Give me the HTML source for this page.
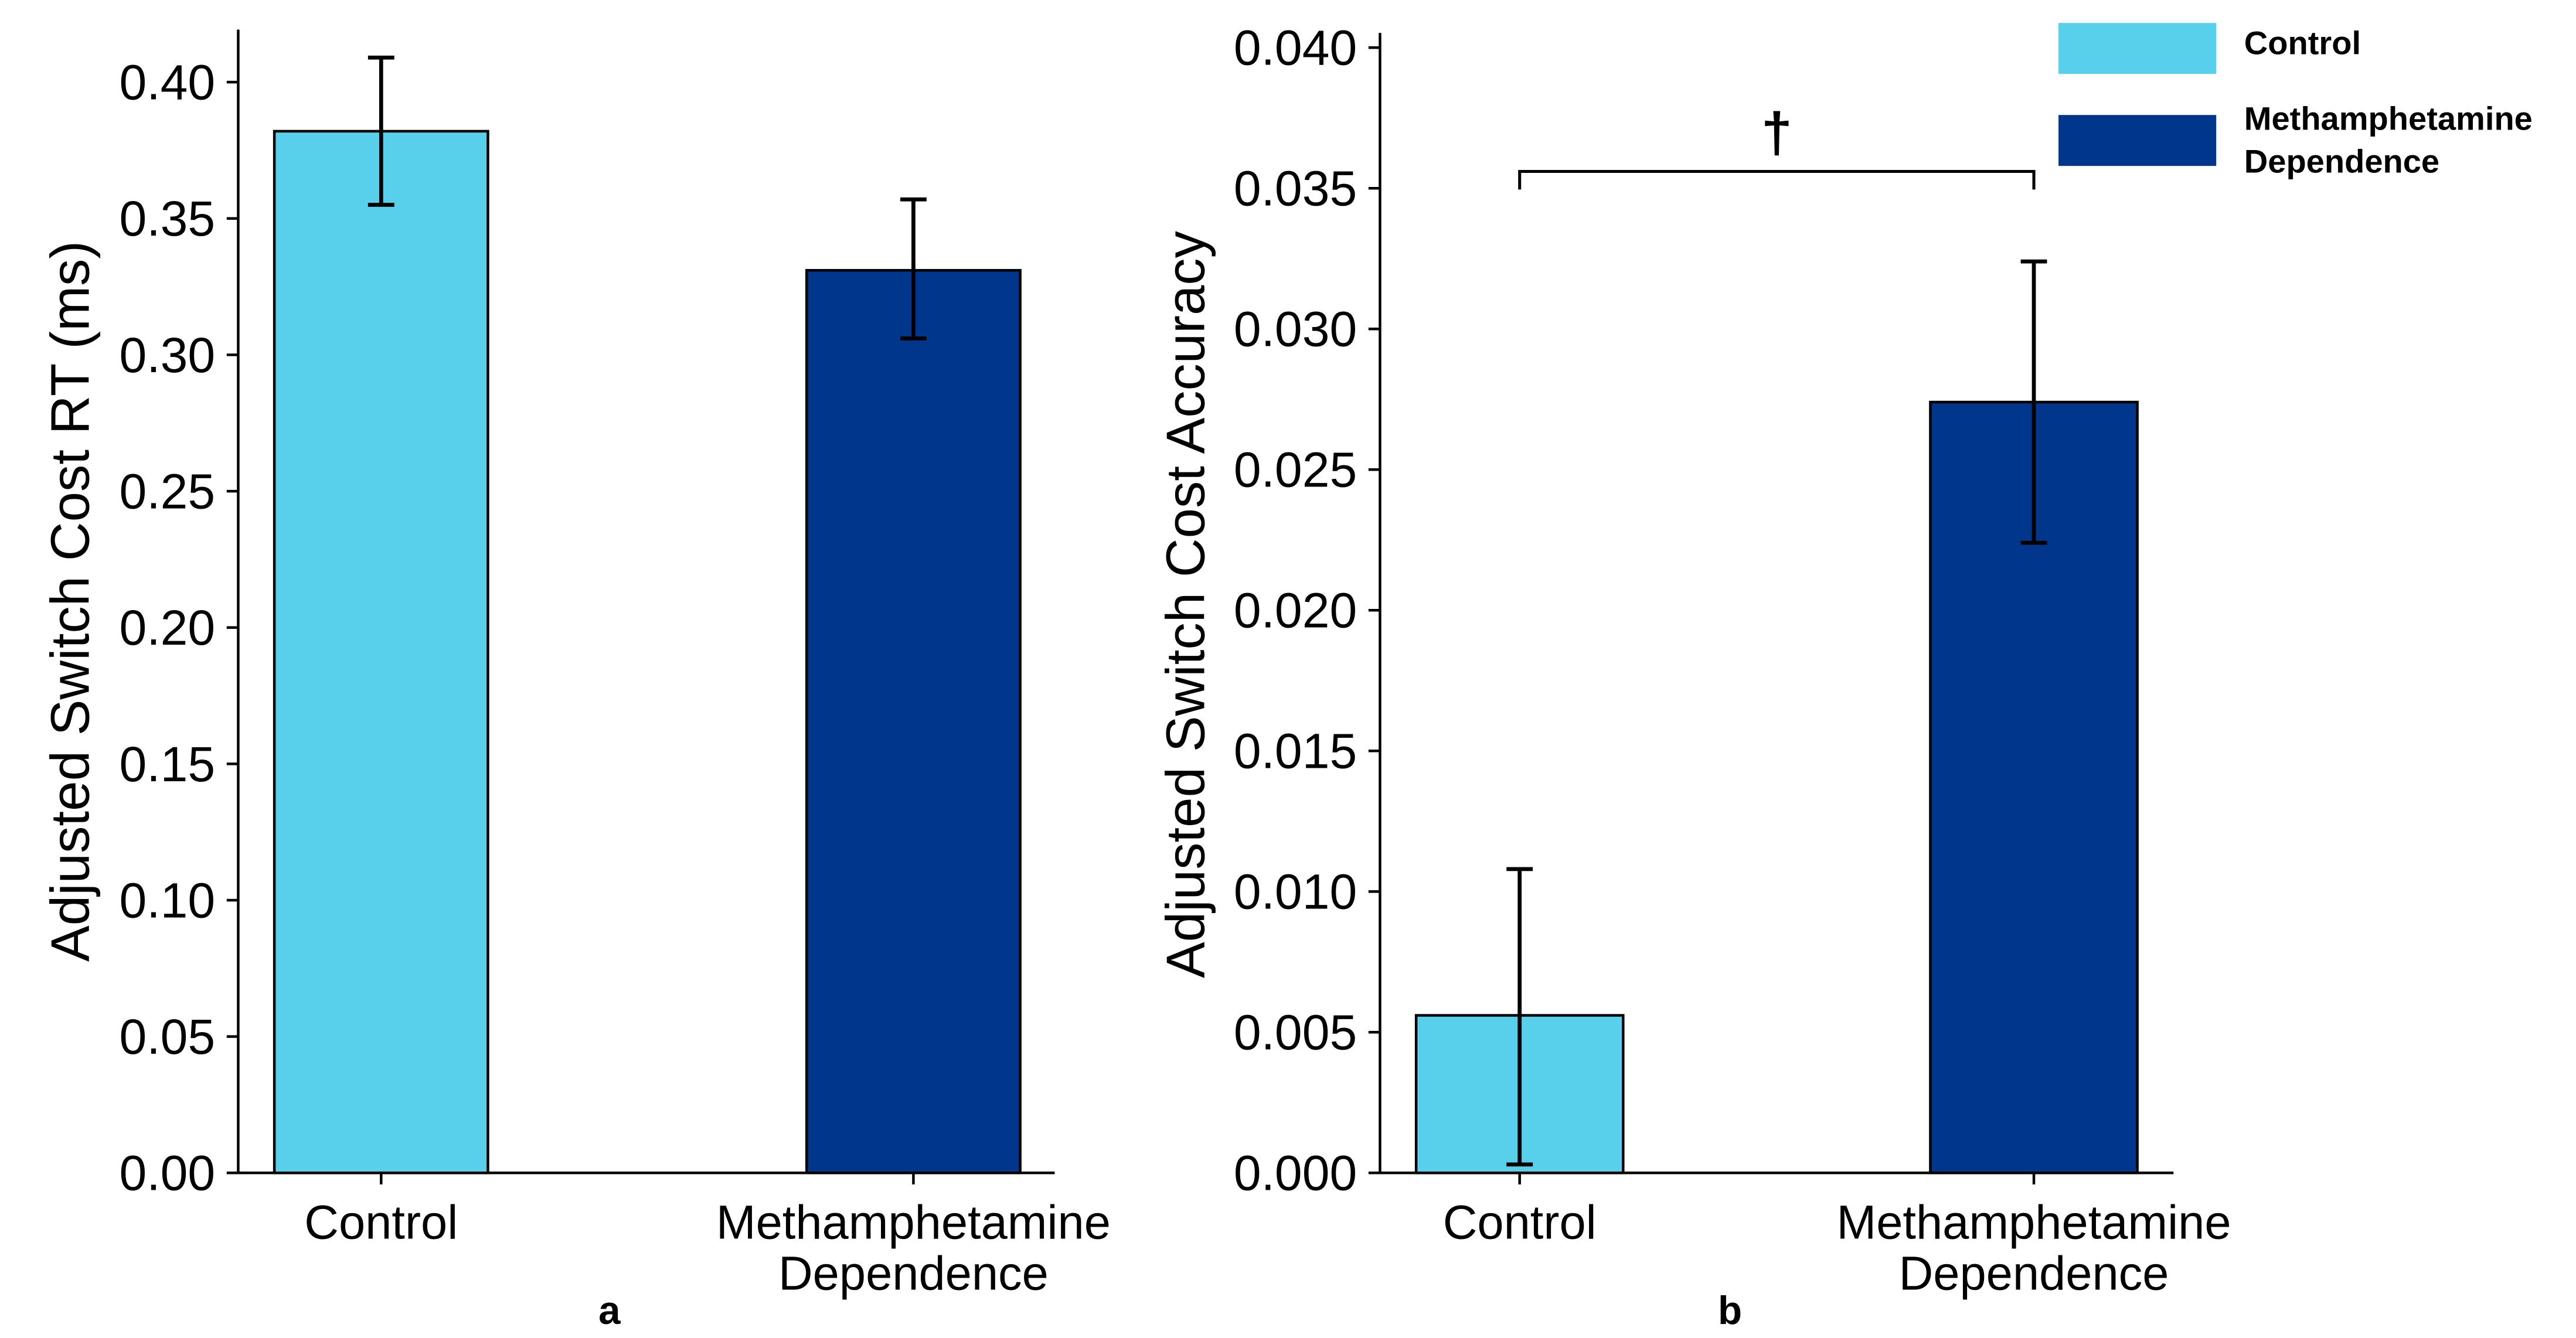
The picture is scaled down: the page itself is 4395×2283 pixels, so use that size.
<!DOCTYPE html>
<html><head><meta charset="utf-8"><style>
html,body{margin:0;padding:0;background:#fff;}
svg{display:block;font-family:"Liberation Sans",Arial,sans-serif;}
</style></head><body>
<svg id="fig" width="4395" height="2283" viewBox="0 0 1568 814.5" xmlns="http://www.w3.org/2000/svg"></svg>
<script>
const categories = ["Control", "Methamphetamine Dependence"];
const rtValues = [0.382, 0.331];
const rtErrLow = [0.355, 0.306];
const rtErrHigh = [0.409, 0.357];
const rtTicks = ["0.00","0.05","0.10","0.15","0.20","0.25","0.30","0.35","0.40"];
const accValues = [0.0056, 0.0274];
const accErrLow = [0.0003, 0.0224];
const accErrHigh = [0.0108, 0.0324];
const accTicks = ["0.000","0.005","0.010","0.015","0.020","0.025","0.030","0.035","0.040"];
const bracketValue = 0.0356;
const colors = ["#58cfeb", "#00378c"];

const svg = document.getElementById('fig');
const NS = "http://www.w3.org/2000/svg";
function mk(tag, attrs, parent){
  const e = document.createElementNS(NS, tag);
  for (const k in attrs) e.setAttribute(k, attrs[k]);
  (parent||svg).appendChild(e);
  return e;
}

function panel(o){
  const g = mk('g', {});
  
  
  const y = v => o.y0 - (v - 0) / o.yMax * (o.y0 - o.yTop);
  const xc = i => o.centers[i];
  o.values.forEach((v,i)=>{
    const r = mk('rect', {x: xc(i)-o.bw/2, y: y(v), width: o.bw, height: o.y0 - y(v), fill: colors[i], stroke:'#000', 'stroke-width':1.6}, g);
    
    
  });
  o.values.forEach((v,i)=>{
    const eg = mk('g', {stroke:'#000','stroke-width':2.4}, g);
    
    
    const lo = y(o.lo[i]), hi = y(o.hi[i]);
    mk('line', {x1:xc(i), x2:xc(i), y1:lo, y2:hi}, eg);
    mk('line', {x1:xc(i)-8, x2:xc(i)+8, y1:lo, y2:lo}, eg);
    mk('line', {x1:xc(i)-8, x2:xc(i)+8, y1:hi, y2:hi}, eg);
  });
  const ya = mk('line', {x1:o.ax, x2:o.ax, y1:o.axTop, y2:o.y0, stroke:'#000','stroke-width':1.6}, g);
  
  
  const xa = mk('line', {x1:o.ax, x2:o.axRight, y1:o.y0, y2:o.y0, stroke:'#000','stroke-width':1.6}, g);
  
  
  o.ticks.forEach((t,i)=>{
    const v = parseFloat(t), yy = y(v);
    mk('line', {x1:o.ax-7, x2:o.ax, y1:yy, y2:yy, stroke:'#000','stroke-width':1.6}, g);
    const tx = mk('text', {x:o.ax-14, y:yy+10.5, 'font-size':30, 'text-anchor':'end', fill:'#000'}, g);
    tx.textContent = t;
    
    
  });
  categories.forEach((c,i)=>{
    mk('line', {x1:xc(i), x2:xc(i), y1:o.y0, y2:o.y0+7, stroke:'#000','stroke-width':1.6}, g);
    const lines = i===0 ? ["Control"] : ["Methamphetamine","Dependence"];
    lines.forEach((L,j)=>{
      const tx = mk('text', {x:xc(i), y:o.y0+40+j*31, 'font-size':29, 'text-anchor':'middle', fill:'#000'}, g);
      tx.textContent = L;
      
      
    });
  });
  const yt = mk('text', {x:0, y:0, 'font-size':33, 'text-anchor':'middle', fill:'#000', transform:`translate(${o.titleX},${o.titleY}) rotate(-90)`}, g);
  yt.textContent = o.title;
  
  
  const pl = mk('text', {x:o.labelX, y:806, 'font-size':24, 'font-weight':'bold', 'text-anchor':'middle', fill:'#000'}, g);
  pl.textContent = o.label;
  
  
  return {g, y, xc};
}

panel({name:'panel-a', values:rtValues, lo:rtErrLow, hi:rtErrHigh, ticks:rtTicks, yMax:0.40, y0:714, yTop:50, axTop:18, ax:145, axRight:642, centers:[232,556], bw:130, title:'Adjusted Switch Cost RT (ms)', titleX:54, titleY:366, label:'a', labelX:371});
const pb = panel({name:'panel-b', values:accValues, lo:accErrLow, hi:accErrHigh, ticks:accTicks, yMax:0.040, y0:714, yTop:29, axTop:20, ax:840, axRight:1323, centers:[925,1238], bw:126, title:'Adjusted Switch Cost Accuracy', titleX:733, titleY:368, label:'b', labelX:1053});

const by = pb.y(bracketValue);
const br = mk('path', {d:`M${pb.xc(0)},${by+11} V${by} H${pb.xc(1)} V${by+11}`, fill:'none', stroke:'#000','stroke-width':1.8});


const dg = mk('text', {x:(pb.xc(0)+pb.xc(1))/2, y:by-12, 'font-size':34, 'font-weight':'bold', 'text-anchor':'middle', fill:'#000'});
dg.textContent = '†';



const lg = mk('g', {});


[["Control"],["Methamphetamine","Dependence"]].forEach((lines,i)=>{
  const e = mk('g', {}, lg);
  
  
  mk('rect', {x:1253, y:i===0?14:70, width:96, height:31, fill:colors[i]}, e);
  lines.forEach((L,j)=>{
    const t = mk('text', {x:1366, y:(i===0?33:79)+j*26, 'font-size':20, 'font-weight':'bold', fill:'#000'}, e);
    t.textContent = L;
  });
});
</script>
</body></html>
